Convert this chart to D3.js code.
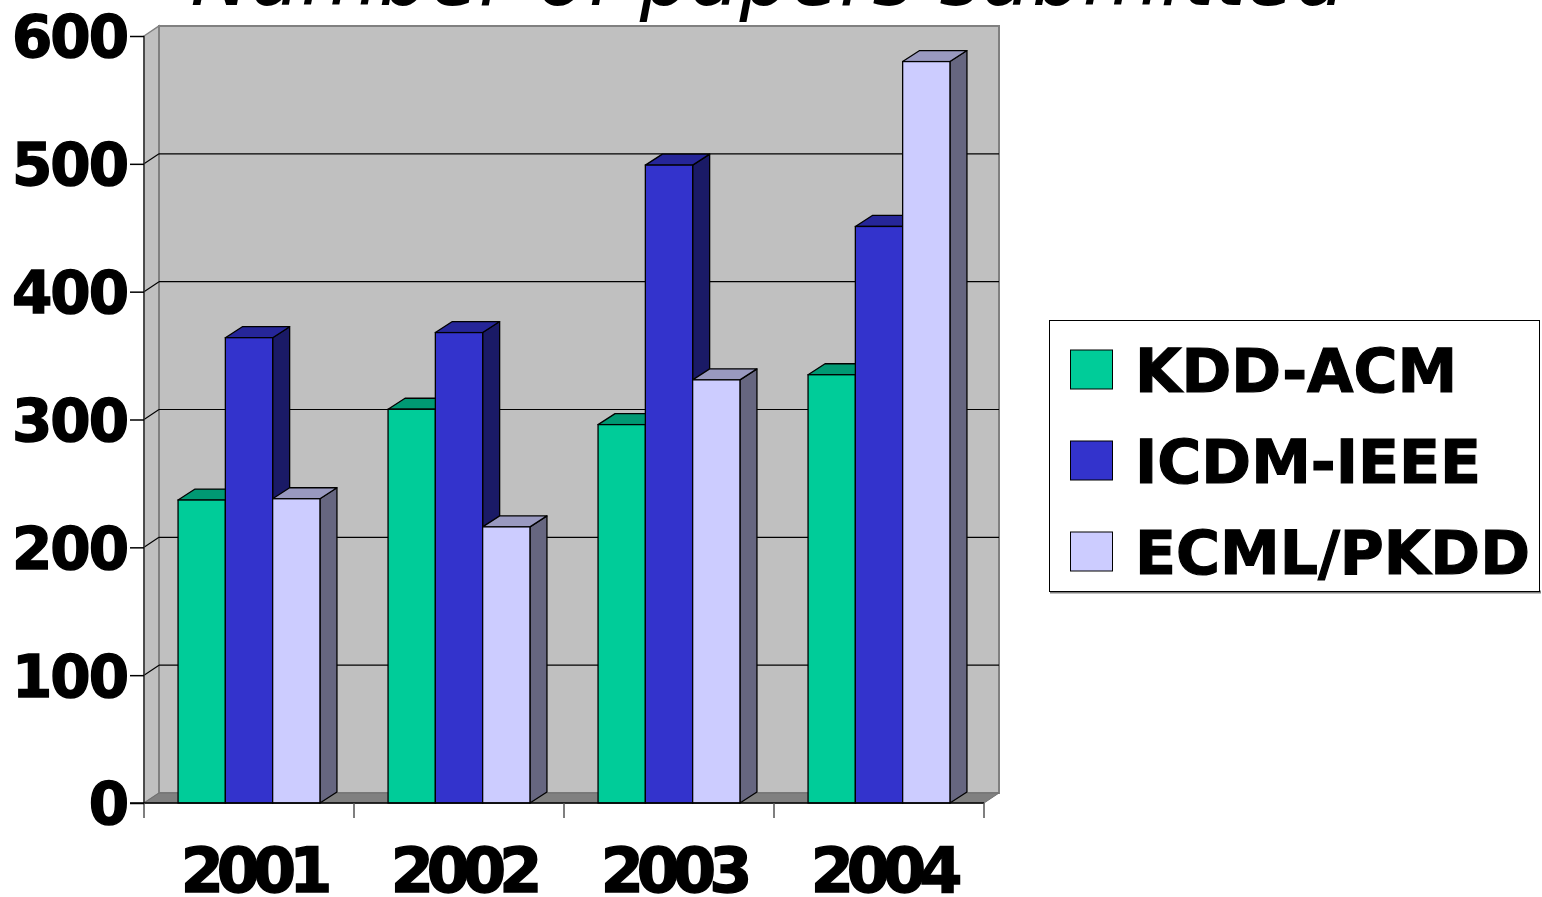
<!DOCTYPE html>
<html>
<head>
<meta charset="utf-8">
<script src="https://cdn.jsdelivr.net/npm/d3@7"></script>
<style>
  html, body { margin: 0; padding: 0; background: #fff; }
  svg { display: block; }
</style>
</head>
<body>
<svg id="chart" width="1542" height="897"></svg>
<script>
// ---- data ----
const years = ["2001", "2002", "2003", "2004"];
const seriesNames = ["KDD-ACM", "ICDM-IEEE", "ECML/PKDD"];
const kddAcm   = [237, 308, 296, 335];
const icdmIeee = [364, 368, 499, 451];
const ecmlPkdd = [238, 216, 331, 580];
const yTicks = [0, 100, 200, 300, 400, 500, 600];
const titleText = "Number of papers submitted";

const seriesValues = [kddAcm, icdmIeee, ecmlPkdd];
const colors = {
  front: ["#00CC99", "#3333CC", "#CCCCFF"],
  top:   ["#009973", "#262699", "#9999C0"],
  side:  ["#006B50", "#1A1A66", "#666680"]
};

// ---- layout ----
const svg = d3.select("#chart");
const x0 = 144, x1 = 984, yBase = 803, yTop = 36;
const wall = { dx: 15, dy: -10 };
const bd = { dx: 17, dy: -11 };

const y = d3.scaleLinear().domain([0, 600]).range([yBase, yTop]);
const x = d3.scaleBand().domain(years).range([x0, x1]).padding(0);
const xs = d3.scaleBand().domain(seriesNames).range([0, x.bandwidth()])
  .paddingInner(0).paddingOuter(0.72);

const poly = pts => pts.map(p => p.join(",")).join(" ");

// walls
const g = svg.append("g");
g.append("polygon")
  .attr("points", poly([[x0, y(600)], [x0 + wall.dx, y(600) + wall.dy], [x0 + wall.dx, yBase + wall.dy], [x0, yBase]]))
  .attr("fill", "#C0C0C0").attr("stroke", "#808080").attr("stroke-width", 1.5);
g.append("polygon")
  .attr("points", poly([[x0 + wall.dx, y(600) + wall.dy], [x1 + wall.dx, y(600) + wall.dy], [x1 + wall.dx, yBase + wall.dy], [x0 + wall.dx, yBase + wall.dy]]))
  .attr("fill", "#C0C0C0").attr("stroke", "#808080").attr("stroke-width", 2);
g.append("polygon")
  .attr("points", poly([[x0, yBase], [x0 + wall.dx, yBase + wall.dy], [x1 + wall.dx, yBase + wall.dy], [x1, yBase]]))
  .attr("fill", "#808080").attr("stroke", "#707070").attr("stroke-width", 1);

// gridlines
const grid = yTicks.filter(v => v > 0 && v < 600);
g.selectAll("line.grid").data(grid).enter().append("line")
  .attr("x1", x0 + wall.dx).attr("x2", x1 + wall.dx)
  .attr("y1", d => y(d) + wall.dy).attr("y2", d => y(d) + wall.dy)
  .attr("stroke", "#000").attr("stroke-width", 1.2);
g.selectAll("line.gridside").data(grid).enter().append("line")
  .attr("x1", x0).attr("x2", x0 + wall.dx)
  .attr("y1", d => y(d)).attr("y2", d => y(d) + wall.dy)
  .attr("stroke", "#000").attr("stroke-width", 1.2);

// bars
const bars = svg.append("g");
years.forEach((yr, i) => {
  seriesNames.forEach((s, j) => {
    const v = seriesValues[j][i];
    const bx = x(yr) + xs(s), bw = xs.bandwidth();
    const ty = y(v), by = y(0);
    bars.append("polygon")
      .attr("points", poly([[bx + bw, ty], [bx + bw + bd.dx, ty + bd.dy], [bx + bw + bd.dx, by + bd.dy], [bx + bw, by]]))
      .attr("fill", colors.side[j]).attr("stroke", "#000").attr("stroke-width", 1.3).attr("stroke-linejoin", "round");
    bars.append("polygon")
      .attr("points", poly([[bx, ty], [bx + bd.dx, ty + bd.dy], [bx + bw + bd.dx, ty + bd.dy], [bx + bw, ty]]))
      .attr("fill", colors.top[j]).attr("stroke", "#000").attr("stroke-width", 1.3).attr("stroke-linejoin", "round");
    bars.append("rect")
      .attr("x", bx).attr("y", ty).attr("width", bw).attr("height", by - ty)
      .attr("fill", colors.front[j]).attr("stroke", "#000").attr("stroke-width", 1.3);
  });
});

// axes
const ax = svg.append("g");
ax.append("line").attr("x1", x0).attr("x2", x0).attr("y1", y(600)).attr("y2", yBase)
  .attr("stroke", "#333").attr("stroke-width", 1.5);
ax.append("line").attr("x1", x0 - 14).attr("x2", x1).attr("y1", yBase).attr("y2", yBase)
  .attr("stroke", "#000").attr("stroke-width", 1.5);

const yAxis = d3.axisLeft(y).tickValues(yTicks).tickSize(14).tickPadding(3).tickFormat(d3.format("d"));
const yG = svg.append("g").attr("transform", `translate(${x0},0)`).call(yAxis);
yG.select(".domain").remove();
yG.selectAll(".tick line").attr("stroke", "#000").attr("stroke-width", 1.5);
yG.selectAll(".tick text")
  .attr("font-family", "DejaVu Sans").attr("font-weight", "bold").attr("font-size", 58)
  .attr("fill", "#000").attr("stroke", "#000").attr("stroke-width", 1.4)
  .attr("dy", "0.36em").attr("letter-spacing", -2);

// x boundary ticks
const bounds = years.map(d => x(d)).concat([x1]);
ax.selectAll("line.xt").data(bounds).enter().append("line")
  .attr("x1", d => d).attr("x2", d => d).attr("y1", yBase).attr("y2", yBase + 15)
  .attr("stroke", "#555").attr("stroke-width", 1.5);
ax.selectAll("text.xl").data(years).enter().append("text")
  .attr("x", d => x(d) + x.bandwidth() / 2 + 4).attr("y", 892)
  .attr("text-anchor", "middle")
  .attr("font-family", "DejaVu Sans").attr("font-weight", "bold").attr("font-size", 62)
  .attr("stroke", "#000").attr("stroke-width", 1.4)
  .attr("letter-spacing", -7)
  .text(d => d);

// title
svg.append("text").attr("x", 768).attr("y", 5).attr("text-anchor", "middle")
  .attr("font-family", "DejaVu Sans").attr("font-style", "italic").attr("font-size", 80)
  .text(titleText);

// legend
const lg = svg.append("g");
lg.append("line").attr("x1", 1050).attr("x2", 1541).attr("y1", 592).attr("y2", 592)
  .attr("stroke", "#808080").attr("stroke-width", 3);
lg.append("rect").attr("x", 1049.5).attr("y", 320.5).attr("width", 490).attr("height", 271)
  .attr("fill", "#fff").attr("stroke", "#000").attr("stroke-width", 1);
const ly = d3.scalePoint().domain(seriesNames).range([369.5, 551.5]);
seriesNames.forEach((s, j) => {
  lg.append("rect").attr("x", 1070.5).attr("y", ly(s) - 19.5).attr("width", 42).attr("height", 39)
    .attr("fill", colors.front[j]).attr("stroke", "#000").attr("stroke-width", 1);
  lg.append("text").attr("x", 1135).attr("y", ly(s) + 22)
    .attr("font-family", "DejaVu Sans").attr("font-weight", "bold").attr("font-size", 60)
    .attr("stroke", "#000").attr("stroke-width", 1.2)
    .text(s);
});
</script>
</body>
</html>
